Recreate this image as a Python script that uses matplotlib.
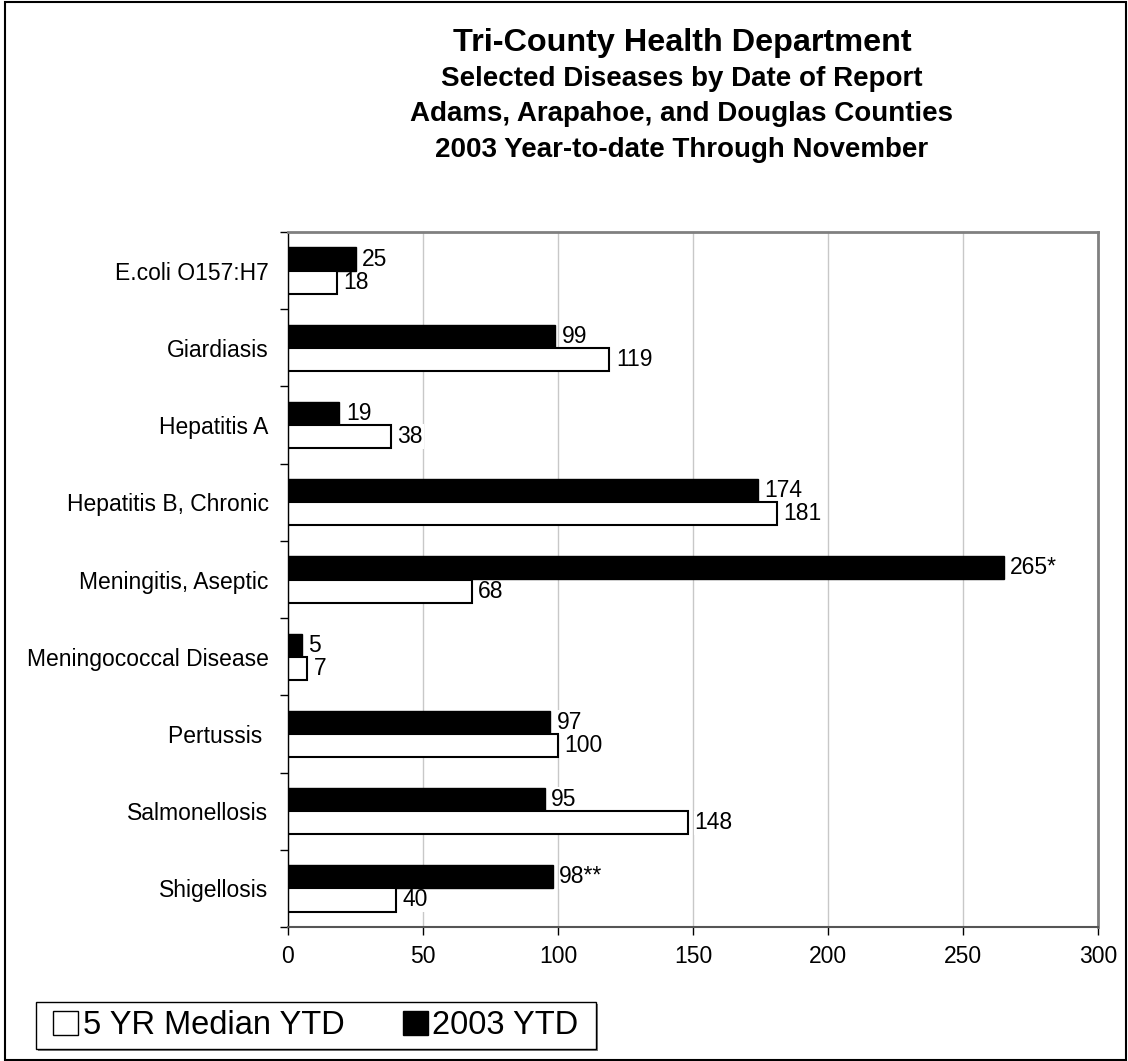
import matplotlib
matplotlib.use("Agg")
import matplotlib.pyplot as plt
import numpy as np
from matplotlib.patches import Rectangle, Patch

plt.rcParams['font.family'] = ['Liberation Sans', 'DejaVu Sans']

categories = ["E.coli O157:H7", "Giardiasis", "Hepatitis A", "Hepatitis B, Chronic",
              "Meningitis, Aseptic", "Meningococcal Disease", "Pertussis ",
              "Salmonellosis", "Shigellosis"]
ytd_2003 = [25, 99, 19, 174, 265, 5, 97, 95, 98]
median_5yr = [18, 119, 38, 181, 68, 7, 100, 148, 40]
ytd_labels = ["25", "99", "19", "174", "265*", "5", "97", "95", "98**"]
median_labels = [str(v) for v in median_5yr]
xticks = [0, 50, 100, 150, 200, 250, 300]
title_lines = ["Tri-County Health Department",
               "Selected Diseases by Date of Report",
               "Adams, Arapahoe, and Douglas Counties",
               "2003 Year-to-date Through November"]

W, H = 1128, 1061
FS = 16.5
fig = plt.figure(figsize=(W / 100, H / 100), dpi=100)
ax = fig.add_axes([288 / W, 1 - 927 / H, (1098 - 288) / W, (927 - 232) / H])

y = np.arange(len(categories))
h = 0.30
ax.barh(y - h / 2, ytd_2003, height=h, color="black", edgecolor="black", linewidth=1, zorder=5)
ax.barh(y + h / 2, median_5yr, height=h, color="white", edgecolor="black", linewidth=1.5, zorder=5)

for yi, v, lab in zip(y, ytd_2003, ytd_labels):
    ax.text(v + 2.5, yi - h / 2, lab, va="center", ha="left", fontsize=FS,
            bbox=dict(facecolor="white", edgecolor="none", pad=0.5), zorder=4)
for yi, v, lab in zip(y, median_5yr, median_labels):
    ax.text(v + 2.5, yi + h / 2, lab, va="center", ha="left", fontsize=FS,
            bbox=dict(facecolor="white", edgecolor="none", pad=0.5), zorder=4)

ax.set_xlim(0, 300)
ax.set_ylim(len(categories) - 0.5, -0.5)
ax.set_xticks(xticks)
ax.set_xticklabels([str(t) for t in xticks], fontsize=FS)
ax.set_yticks(y)
ax.set_yticklabels(categories, fontsize=FS)
ax.set_yticks(np.arange(-0.5, len(categories), 1.0), minor=True)
ax.tick_params(axis="y", which="major", length=0, pad=14)
ax.tick_params(axis="y", which="minor", length=6, width=1, direction="out")
ax.tick_params(axis="x", which="major", length=6, width=1, direction="out", pad=7)
ax.xaxis.grid(True, color="#c8c8c8", linewidth=1, zorder=0)
ax.set_axisbelow(True)

for s in ["top", "right"]:
    ax.spines[s].set_color("#808080")
    ax.spines[s].set_linewidth(2)
ax.spines["left"].set_color("black")
ax.spines["left"].set_linewidth(1)
ax.spines["bottom"].set_color("#555555")
ax.spines["bottom"].set_linewidth(1.5)
for s in ax.spines.values():
    s.set_zorder(6)

cx = 682 / W
fig.text(cx, 1 - 43 / H, title_lines[0], ha="center", va="center",
         fontsize=23.3, fontweight="bold")
for i, ypix in enumerate([79, 114, 150]):
    fig.text(cx, 1 - ypix / H, title_lines[i + 1], ha="center", va="center",
             fontsize=20, fontweight="bold")

# legend box (pixel coords)
lx0, lx1, ly0, ly1 = 36, 596, 1002, 1049
fig.patches.append(Rectangle((lx0 / W + 2 / W, 1 - (ly1 + 2) / H), (lx1 - lx0) / W, (ly1 - ly0) / H,
                             transform=fig.transFigure, facecolor="#808080", edgecolor="none",
                             zorder=1))
fig.patches.append(Rectangle((lx0 / W, 1 - ly1 / H), (lx1 - lx0) / W, (ly1 - ly0) / H,
                             transform=fig.transFigure, facecolor="white", edgecolor="black",
                             linewidth=1, zorder=2))
handles = [Patch(facecolor="white", edgecolor="black", linewidth=1, label="5 YR Median YTD"),
           Patch(facecolor="black", edgecolor="black", linewidth=1, label="2003 YTD")]
leg = fig.legend(handles=handles, loc="center",
                 bbox_to_anchor=((lx0 + lx1) / 2 / W, 1 - (ly0 + ly1) / 2 / H),
                 ncol=2, fontsize=23.5, frameon=False,
                 handlelength=0.75, handleheight=0.75, handletextpad=0.15, columnspacing=1.8,
                 borderpad=0, borderaxespad=0)
leg.set_zorder(3)

fig.patches.append(Rectangle((5 / W, 1 / H), 1 - 7 / W, 1 - 3 / H, transform=fig.transFigure,
                             fill=False, edgecolor="black", linewidth=1.5))

fig.savefig("out.png", dpi=100)
